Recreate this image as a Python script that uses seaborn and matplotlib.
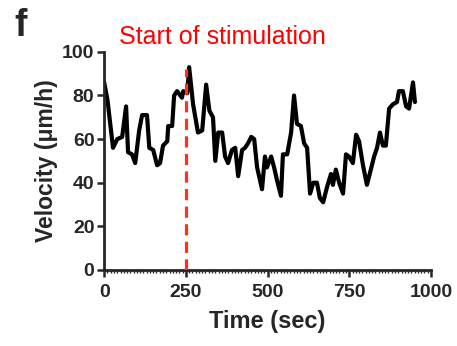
import matplotlib
matplotlib.use('Agg')
import matplotlib.pyplot as plt
import seaborn as sns
import pandas as pd
from matplotlib.ticker import MultipleLocator

# Velocity trace
time_sec = [0, 10, 27, 40, 55, 67, 73, 85, 95, 107, 116, 131, 138, 150, 162, 171,
            180, 193, 196, 208, 214, 223, 238, 242, 254, 260, 272, 287, 300, 312,
            322, 333, 340, 349, 361, 370, 379, 391, 401, 410, 422, 431, 440, 450,
            459, 468, 483, 492, 498, 511, 520, 529, 541, 547, 560, 572, 581, 590,
            602, 612, 621, 630, 640, 651, 660, 670, 682, 694, 700, 709, 719, 731,
            740, 749, 761, 771, 780, 792, 804, 816, 826, 835, 844, 853, 862, 872,
            884, 896, 902, 914, 924, 933, 945, 951]
velocity = [86, 78, 56, 60, 61, 75, 54, 53, 49, 64, 71, 71, 56, 55, 48, 49,
            57, 59, 66, 66, 80, 82, 79, 82, 81, 93, 76, 63, 64, 85,
            73, 70, 50, 63, 63, 52, 49, 55, 56, 43, 55, 56, 58, 61,
            60, 47, 37, 52, 47, 52, 47, 41, 34, 53, 53, 63, 80, 67,
            66, 58, 56, 35, 40, 40, 33, 31, 38, 44, 39, 46, 40, 35,
            53, 52, 49, 62, 59, 48, 39, 46, 52, 56, 63, 57, 57, 74,
            76, 77, 82, 82, 75, 74, 86, 77]

stim_time = 250
stim_top = 92

df = pd.DataFrame({'Time': time_sec, 'Velocity': velocity})

sns.set_style('ticks')
plt.rcParams['font.family'] = ['Liberation Sans', 'DejaVu Sans']

fig = plt.figure(figsize=(4.57, 3.46), dpi=100)
ax = fig.add_axes([0.228, 0.22, 0.715, 0.63])

sns.lineplot(data=df, x='Time', y='Velocity', color='black', linewidth=3.0, ax=ax)
ax.plot([stim_time, stim_time], [0, stim_top], color='#ff3311', linewidth=2.3,
        linestyle=(0, (3.5, 2.0)), zorder=3)
ax.text(45, 101.5, 'Start of stimulation', color='red', fontsize=18,
        ha='left', va='bottom', clip_on=False)

ax.set_xlim(0, 1000)
ax.set_ylim(0, 100)
ax.set_xticks([0, 250, 500, 750, 1000])
ax.set_yticks([0, 20, 40, 60, 80, 100])
ax.xaxis.set_minor_locator(MultipleLocator(10))
ax.tick_params(axis='both', which='major', width=1.8, length=5, labelsize=14, pad=2)
ax.tick_params(axis='x', which='major', pad=5)
ax.tick_params(axis='x', which='minor', width=1, length=2)
for lab in ax.get_xticklabels() + ax.get_yticklabels():
    lab.set_fontweight('bold')

sns.despine(ax=ax)
for s in ['left', 'bottom']:
    ax.spines[s].set_linewidth(2)

ax.set_xlabel('Time (sec)', fontsize=17, fontweight='bold', labelpad=7)
ax.set_ylabel('Velocity (\u03bcm/h)', fontsize=16.5, fontweight='bold', labelpad=3)

fig.text(0.032, 0.925, 'f', fontsize=27, fontweight='bold', ha='left', va='center')

fig.savefig('out.png', dpi=100)
